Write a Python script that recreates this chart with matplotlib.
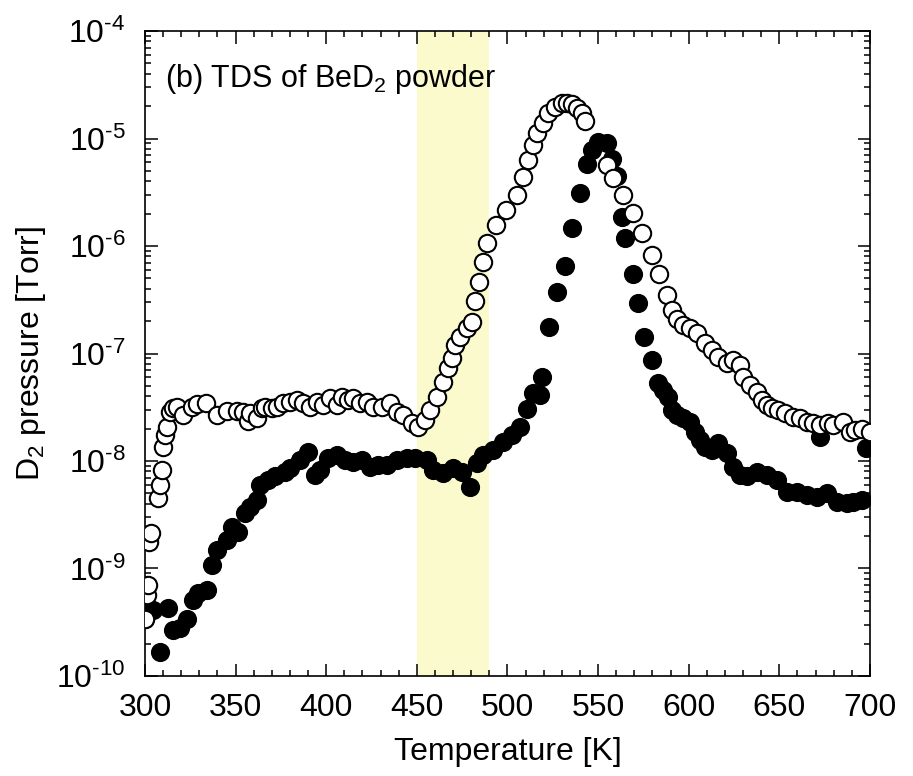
import numpy as np
import matplotlib
matplotlib.use("Agg")
import matplotlib.pyplot as plt
from matplotlib.ticker import LogLocator, MultipleLocator

plt.rcParams["font.family"] = ["Liberation Sans", "DejaVu Sans"]
plt.rcParams["mathtext.fontset"] = "custom"
plt.rcParams["mathtext.rm"] = "Liberation Sans"
plt.rcParams["mathtext.it"] = "Liberation Sans"
plt.rcParams["mathtext.default"] = "regular"

# ---- open circles (upper curve)
T_open = [300.0, 301.3, 301.8, 302.4, 303.3, 307.3, 308.3, 309.2, 310.1, 311.0, 312.0,
          313.8, 315.6, 317.5, 321.1, 325.8, 328.7, 333.5, 339.5, 345.4, 350.6, 354.2,
          357.0, 357.9, 361.6, 364.4, 366.2, 369.9, 372.7, 376.3, 380.0, 383.7, 387.3,
          391.0, 394.7, 398.4, 402.1, 405.8, 408.5, 412.2, 414.9, 418.6, 422.3, 426.0,
          430.6, 435.2, 438.9, 442.5, 447.1, 450.8, 454.5, 457.2, 460.9, 464.6, 467.3,
          469.2, 471.0, 473.8, 477.5, 480.2, 482.1, 484.4, 486.3, 488.5, 493.7, 499.2,
          505.1, 508.7, 511.5, 513.9, 516.5, 519.8, 522.5, 526.2, 529.9, 532.7, 535.4,
          538.2, 540.9, 542.8, 554.7, 558.4, 563.9, 569.4, 574.0, 579.6, 583.6, 587.8,
          590.6, 593.7, 597.0, 600.7, 604.4, 609.0, 612.7, 616.3, 620.9, 624.6, 628.3,
          630.1, 633.8, 637.5, 640.3, 643.0, 645.8, 649.4, 653.1, 657.7, 661.4, 665.1,
          668.7, 672.4, 677.0, 679.8, 685.3, 689.0, 691.7, 695.4, 700.0]
P_open = [3.4e-10, 5.7e-10, 7.0e-10, 1.77e-9, 2.15e-9, 4.5e-9, 6.0e-9, 8.2e-9, 1.36e-8,
          1.75e-8, 2.08e-8, 2.88e-8, 3.09e-8, 3.2e-8, 2.68e-8, 3.2e-8, 3.37e-8, 3.48e-8,
          2.68e-8, 2.92e-8, 2.94e-8, 2.88e-8, 2.36e-8, 2.78e-8, 2.5e-8, 3.09e-8, 3.2e-8,
          3.09e-8, 3.2e-8, 3.44e-8, 3.56e-8, 3.7e-8, 3.44e-8, 3.2e-8, 3.56e-8, 3.32e-8,
          3.83e-8, 3.32e-8, 3.96e-8, 3.7e-8, 3.83e-8, 3.44e-8, 3.56e-8, 3.2e-8, 3.2e-8,
          3.44e-8, 2.88e-8, 2.68e-8, 2.24e-8, 2.08e-8, 2.4e-8, 2.98e-8, 3.96e-8, 5.47e-8,
          7.28e-8, 9.0e-8, 1.2e-7, 1.43e-7, 1.71e-7, 1.98e-7, 3.1e-7, 4.66e-7, 7.1e-7,
          1.07e-6, 1.57e-6, 2.16e-6, 2.98e-6, 4.36e-6, 6.3e-6, 8.7e-6, 1.13e-5, 1.4e-5,
          1.71e-5, 1.98e-5, 2.12e-5, 2.15e-5, 2.09e-5, 1.91e-5, 1.71e-5, 1.47e-5, 5.67e-6,
          4.26e-6, 2.98e-6, 2.01e-6, 1.33e-6, 8.25e-7, 5.5e-7, 3.5e-7, 2.54e-7, 2.08e-7,
          1.84e-7, 1.71e-7, 1.54e-7, 1.24e-7, 1.08e-7, 9.3e-8, 8.1e-8, 8.7e-8, 7.8e-8,
          6.1e-8, 5.1e-8, 4.4e-8, 3.7e-8, 3.32e-8, 3.09e-8, 2.98e-8, 2.78e-8, 2.58e-8,
          2.5e-8, 2.32e-8, 2.24e-8, 2.16e-8, 2.24e-8, 2.16e-8, 2.32e-8, 1.87e-8, 1.94e-8,
          2.0e-8, 1.87e-8]

# ---- filled circles (lower curve)
T_fill = [300.0, 304.6, 308.3, 312.9, 315.6, 319.3, 323.0, 326.6, 329.4, 334.0, 336.8,
          339.9, 345.1, 347.8, 351.5, 355.2, 357.9, 361.6, 363.4, 368.0, 371.7, 377.2,
          380.0, 385.5, 390.1, 393.8, 396.6, 401.2, 405.8, 410.3, 414.9, 419.5, 424.1,
          428.7, 433.4, 438.9, 444.4, 449.0, 455.4, 459.1, 464.6, 470.1, 474.7, 479.3,
          483.0, 486.7, 492.2, 497.7, 502.3, 506.9, 510.6, 513.9, 517.9, 518.9, 523.1,
          527.2, 531.7, 535.7, 540.0, 543.7, 546.4, 550.1, 554.7, 557.5, 560.6, 563.0,
          564.8, 569.1, 572.2, 575.3, 579.6, 582.9, 586.0, 588.7, 590.6, 593.4, 597.0,
          600.7, 603.4, 606.2, 609.0, 612.7, 616.3, 620.9, 624.6, 628.3, 632.0, 637.5,
          643.0, 648.5, 654.0, 659.6, 665.1, 670.6, 672.4, 676.1, 681.6, 687.1, 690.8,
          695.4, 697.6]
P_fill = [3.4e-10, 4.1e-10, 1.68e-10, 4.26e-10, 2.68e-10, 2.78e-10, 3.4e-10, 5.1e-10,
          5.9e-10, 6.3e-10, 1.08e-9, 1.49e-9, 1.84e-9, 2.45e-9, 2.2e-9, 3.27e-9, 3.76e-9,
          4.34e-9, 5.98e-9, 6.66e-9, 7.2e-9, 7.96e-9, 8.6e-9, 1.02e-8, 1.22e-8, 7.4e-9,
          8.3e-9, 1.06e-8, 1.14e-8, 1.02e-8, 9.8e-9, 1.02e-8, 8.85e-9, 9.2e-9, 9.2e-9,
          1.02e-8, 1.06e-8, 1.06e-8, 1.02e-8, 8.25e-9, 7.7e-9, 8.6e-9, 7.96e-9, 5.77e-9,
          9.5e-9, 1.14e-8, 1.27e-8, 1.51e-8, 1.75e-8, 2.08e-8, 3.03e-8, 4.32e-8, 4.11e-8,
          6.1e-8, 1.75e-7, 3.76e-7, 6.5e-7, 1.46e-6, 3.13e-6, 5.8e-6, 7.8e-6, 9.3e-6,
          9.0e-6, 6.4e-6, 4.48e-6, 1.87e-6, 1.18e-6, 5.5e-7, 2.97e-7, 1.43e-7, 8.7e-8,
          5.35e-8, 4.58e-8, 3.96e-8, 2.98e-8, 2.68e-8, 2.5e-8, 2.32e-8, 1.87e-8, 1.57e-8,
          1.36e-8, 1.27e-8, 1.46e-8, 1.18e-8, 8.85e-9, 7.4e-9, 7.2e-9, 7.96e-9, 7.4e-9,
          6.66e-9, 5.19e-9, 5.19e-9, 4.83e-9, 4.66e-9, 1.68e-8, 5.0e-9, 4.18e-9, 4.05e-9,
          4.18e-9, 4.34e-9, 1.31e-8]

SPAN = (450, 490)
TITLE = "(b) TDS of BeD$_2$ powder"
EXPONENTS = list(range(-10, -3))

fig = plt.figure(figsize=(9.13, 7.76), dpi=100)
ax = fig.add_axes([0.1588, 0.1289, 0.7941, 0.8311])

ax.axvspan(*SPAN, color="#fafacd", lw=0, zorder=0)
ax.plot(T_fill, P_fill, "o", ms=12.5, mfc="black", mec="black", mew=1.3, zorder=2)
ax.plot(T_open, P_open, "o", ms=12.5, mfc="white", mec="black", mew=1.5, zorder=3)

ax.set_yscale("log")
ax.set_xlim(300, 700)
ax.set_ylim(1e-10, 1e-4)
ax.xaxis.set_major_locator(MultipleLocator(50))
ax.xaxis.set_minor_locator(MultipleLocator(10))
ax.yaxis.set_minor_locator(LogLocator(base=10, subs=np.arange(2, 10), numticks=100))
ax.set_yticks([10.0**e for e in EXPONENTS])
ax.set_yticklabels([f"$10^{{\\text{{-}}{-e}}}$" for e in EXPONENTS])

ax.tick_params(which="both", direction="in", top=True, right=True, labelsize=23, width=1.1)
ax.tick_params(axis="x", which="major", length=9, pad=12)
ax.tick_params(axis="y", which="major", length=9, pad=14)
ax.tick_params(which="minor", length=4.5)
for s in ax.spines.values():
    s.set_linewidth(1.2)

ax.set_xlabel("Temperature [K]", fontsize=23, labelpad=10)
ax.set_ylabel("D$_2$ pressure [Torr]", fontsize=23, labelpad=6)
ax.text(0.028, 0.925, TITLE, transform=ax.transAxes, fontsize=22, va="center", zorder=5)

fig.savefig("out.png", dpi=100)
